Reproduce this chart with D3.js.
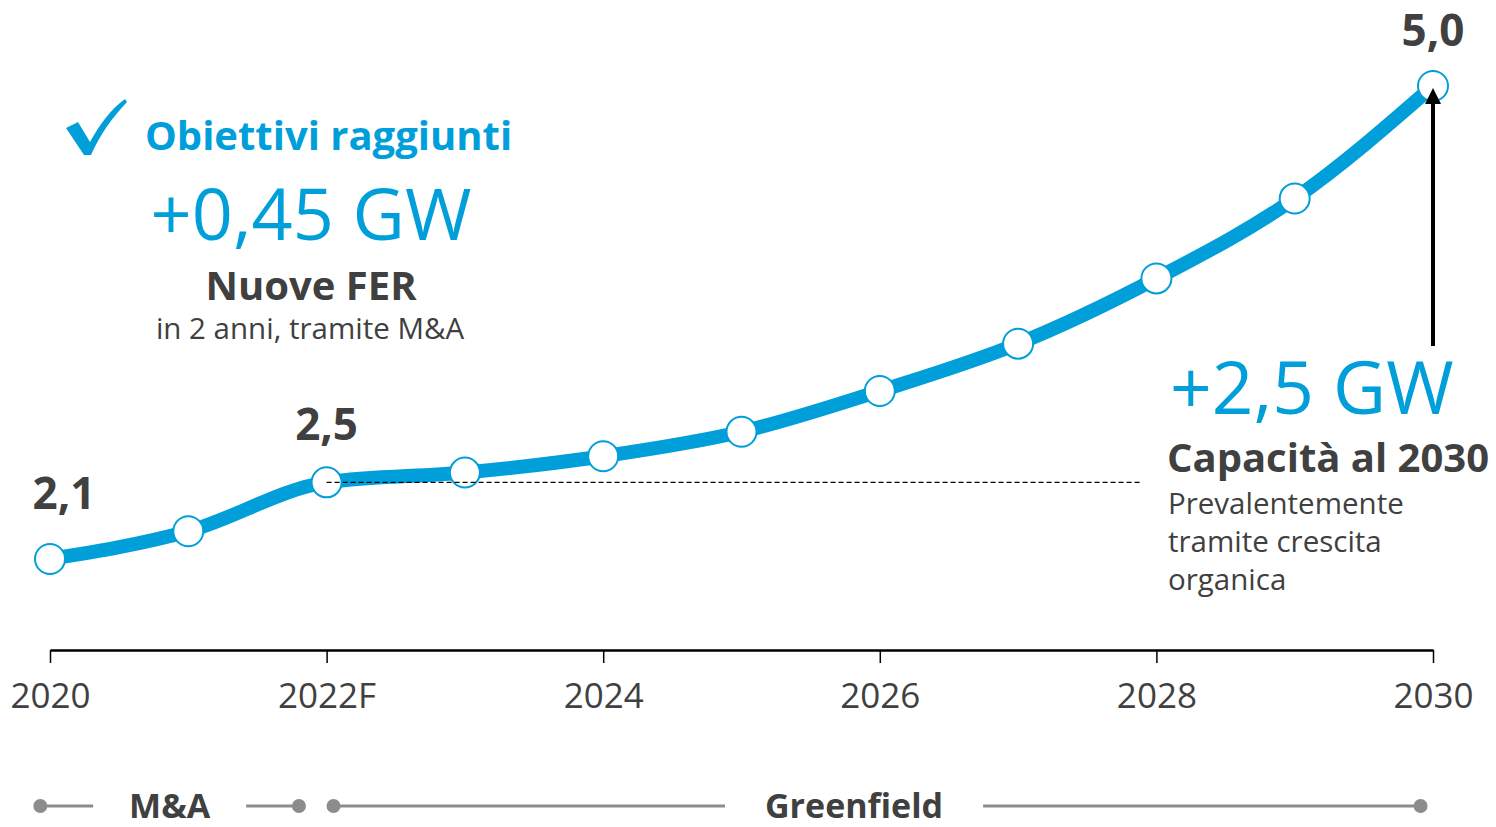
<!DOCTYPE html>
<html><head><meta charset="utf-8">
<script src="https://cdn.jsdelivr.net/npm/d3@7"></script>
<style>
html,body{margin:0;padding:0;background:#fff;}
svg{display:block;font-family:"Open Sans","Noto Sans",sans-serif;}
</style></head>
<body>
<svg id="chart" width="1496" height="827"></svg>
<script>
// ---- data ----
const years = [2020,2021,2022,2023,2024,2025,2026,2027,2028,2029,2030];
const capacityGW = [2.10,2.27,2.57,2.63,2.73,2.88,3.13,3.42,3.82,4.31,5.00];
const tickYears = [2020,2022,2024,2026,2028,2030];
const tickLabels = ["2020","2022F","2024","2026","2028","2030"];
const valueLabelYears = [2020,2022,2030];
const valueLabels = ["2,1","2,5","5,0"];
const phaseNames = ["M&A","Greenfield"];
const phaseStart = [2019.93,2022.05];
const phaseEnd = [2021.8,2029.91];

const blue = "#009FDA", dark = "#404040", grey = "#8C8C8C";
const svg = d3.select("#chart");
const x = d3.scaleLinear().domain([2020,2030]).range([50,1433]);
const y = d3.scaleLinear().domain([2.1,5.0]).range([559,86]);
const pts = years.map((yr,i)=>({yr, v:capacityGW[i]}));

// axis
const axisG = svg.append("g").attr("transform","translate(0,650)")
  .call(d3.axisBottom(x).tickValues(tickYears).tickFormat((d,i)=>tickLabels[i]).tickSize(13).tickSizeOuter(0).tickPadding(20));
axisG.select(".domain").attr("stroke","#000").attr("stroke-width",2.5);
axisG.selectAll(".tick line").attr("stroke","#000").attr("stroke-width",1.5);
axisG.selectAll(".tick text").attr("fill",dark).attr("font-size",35).attr("font-family","'Open Sans',sans-serif");

// line
const line = d3.line().x(d=>x(d.yr)).y(d=>y(d.v)).curve(d3.curveMonotoneX);
svg.append("path").datum(pts).attr("d",line).attr("fill","none")
  .attr("stroke",blue).attr("stroke-width",14).attr("stroke-linecap","round");

// markers
svg.selectAll("circle.pt").data(pts).join("circle").attr("class","pt")
  .attr("cx",d=>x(d.yr)).attr("cy",d=>y(d.v)).attr("r",15)
  .attr("fill","#fff").attr("stroke",blue).attr("stroke-width",2);

// dashed reference line from 2022 value
const v22 = capacityGW[years.indexOf(2022)];
svg.append("line").attr("x1",x(2022)).attr("x2",x(2027.9)).attr("y1",y(v22)).attr("y2",y(v22))
  .attr("stroke","#000").attr("stroke-width",1.2).attr("stroke-dasharray","5,3");

// value labels
const lblOff = {2020:[14,-50],2022:[0,-42],2030:[0,-40]};
valueLabelYears.forEach((yr,i)=>{
  const v = capacityGW[years.indexOf(yr)];
  svg.append("text").attr("x",x(yr)+lblOff[yr][0]).attr("y",y(v)+lblOff[yr][1])
    .attr("text-anchor","middle").attr("font-size",44).attr("font-weight",700).attr("fill",dark).text(valueLabels[i]);
});

// arrow
svg.append("defs").append("marker").attr("id","ah").attr("viewBox","0 0 10 10").attr("refX",5).attr("refY",5)
  .attr("markerWidth",4).attr("markerHeight",5).attr("orient","auto")
  .append("path").attr("d","M0,0 L10,5 L0,10 Z").attr("fill","#000");
svg.append("line").attr("x1",x(2030)).attr("x2",x(2030)).attr("y1",346).attr("y2",y(5.0)+10)
  .attr("stroke","#000").attr("stroke-width",4).attr("marker-end","url(#ah)");

// left annotation
svg.append("path").attr("d","M66,128 L78,122 L90,142 C100,124 110,110 125,99 L127,102 C112,118 101,133 91,155 L84,155 Z").attr("fill",blue);
svg.append("text").attr("x",145).attr("y",150).attr("font-size",40).attr("font-weight",700).attr("fill",blue).text("Obiettivi raggiunti");
svg.append("text").attr("x",311).attr("y",240).attr("text-anchor","middle").attr("font-size",72).attr("fill",blue).text("+0,45 GW");
svg.append("text").attr("x",311).attr("y",300).attr("text-anchor","middle").attr("font-size",40).attr("font-weight",700).attr("fill",dark).text("Nuove FER");
svg.append("text").attr("x",310).attr("y",339).attr("text-anchor","middle").attr("font-size",29.5).attr("fill",dark).text("in 2 anni, tramite M&A");

// right annotation
svg.append("text").attr("x",1170).attr("y",414).attr("font-size",73).attr("fill",blue).text("+2,5 GW");
svg.append("text").attr("x",1167).attr("y",472).attr("font-size",40).attr("font-weight",700).attr("fill",dark).text("Capacità al 2030");
["Prevalentemente","tramite crescita","organica"].forEach((t,i)=>{
  svg.append("text").attr("x",1168).attr("y",514+i*38).attr("font-size",29.5).attr("fill",dark).text(t);
});

// phase legend
const ly = 806;
phaseNames.forEach((name,i)=>{
  const x0 = x(phaseStart[i]), x1 = x(phaseEnd[i]);
  const cx = (x0+x1)/2 + (i===0?0:-23);
  const t = svg.append("text").attr("x",cx).attr("y",ly+12).attr("text-anchor","middle")
    .attr("font-size",34).attr("font-weight",700).attr("fill",dark).text(name);
  const w = t.node().getComputedTextLength();
  const gap = i===0?36:40;
  svg.append("line").attr("x1",x0).attr("x2",cx-w/2-gap).attr("y1",ly).attr("y2",ly).attr("stroke",grey).attr("stroke-width",3);
  svg.append("line").attr("x1",cx+w/2+gap).attr("x2",x1).attr("y1",ly).attr("y2",ly).attr("stroke",grey).attr("stroke-width",3);
  svg.append("circle").attr("cx",x0).attr("cy",ly).attr("r",7).attr("fill",grey);
  svg.append("circle").attr("cx",x1).attr("cy",ly).attr("r",7).attr("fill",grey);
});
</script>
</body></html>
